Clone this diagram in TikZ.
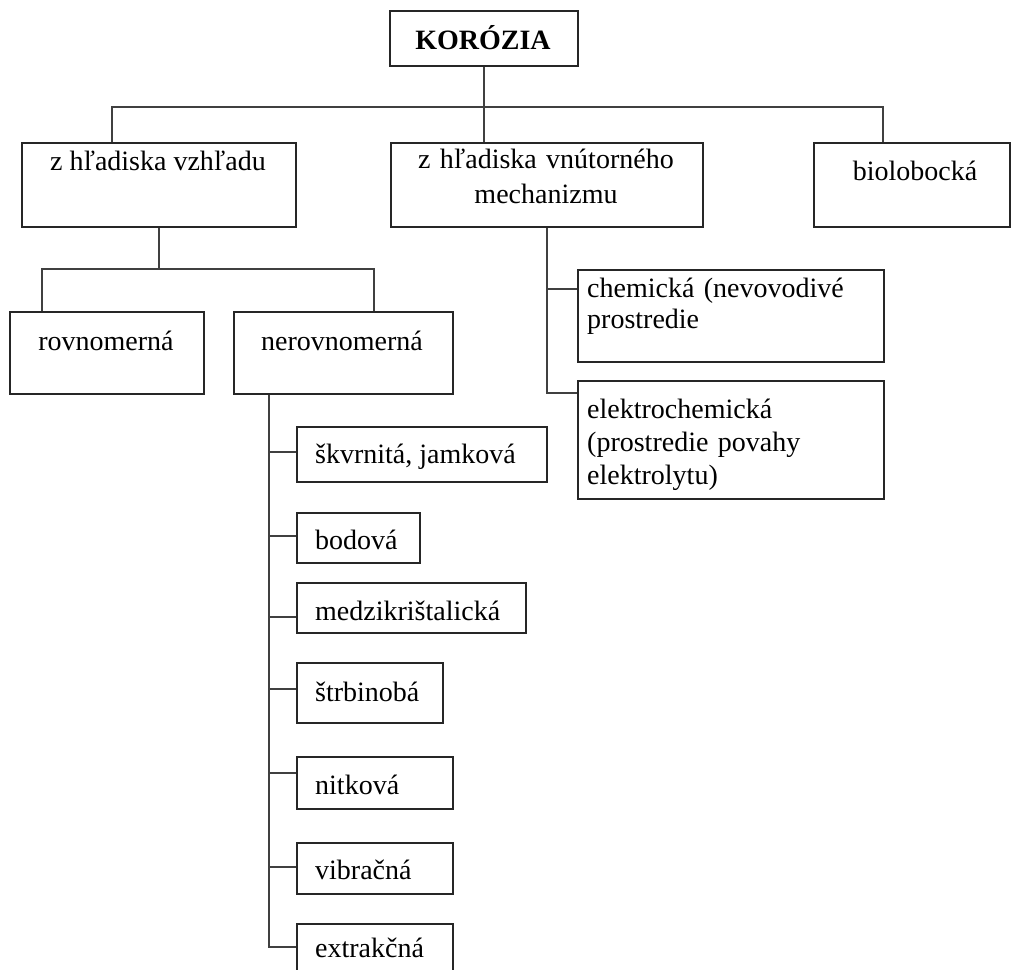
\documentclass[tikz,border=0pt]{standalone}
\usepackage{fontspec}
\setmainfont{Liberation Serif}
\begin{document}
\begin{tikzpicture}[x=1pt,y=-1pt,
  box/.style={draw=black!85, line width=1.6pt, inner sep=0pt, anchor=north west},
  txt/.style={inner sep=0pt, font=\fontsize{28}{33}\selectfont},
  wire/.style={draw=black!75, line width=1.4pt}]
\clip (0,0) rectangle (1011,969);
\fill[white] (0,0) rectangle (1011,969);

% boxes
\node[box, minimum width=188, minimum height=55] (kor) at (389,10) {};
\node[box, minimum width=274, minimum height=84] (vzh) at (21,142) {};
\node[box, minimum width=312, minimum height=84] (mech) at (390,142) {};
\node[box, minimum width=196, minimum height=84] (bio) at (813,142) {};
\node[box, minimum width=194, minimum height=82] (rov) at (9,311) {};
\node[box, minimum width=219, minimum height=82] (nerov) at (233,311) {};
\node[box, minimum width=306, minimum height=92] (chem) at (577,269) {};
\node[box, minimum width=306, minimum height=118] (elch) at (577,380) {};
\node[box, minimum width=250, minimum height=55] (s1) at (296,426) {};
\node[box, minimum width=123, minimum height=50] (s2) at (296,512) {};
\node[box, minimum width=229, minimum height=50] (s3) at (296,582) {};
\node[box, minimum width=146, minimum height=60] (s4) at (296,662) {};
\node[box, minimum width=156, minimum height=52] (s5) at (296,756) {};
\node[box, minimum width=156, minimum height=51] (s6) at (296,842) {};
\node[box, minimum width=156, minimum height=60] (s7) at (296,923) {};

% texts
\node[txt, anchor=base, font={\fontsize{28}{33}\selectfont\bfseries}] at (483,49) {KORÓZIA};
\node[txt, anchor=base] at (158,170) {z hľadiska vzhľadu};
\node[txt, anchor=base, text width=300, align=center] at (546,168) {z hľadiska vnútorného\\[2pt]mechanizmu};
\node[txt, anchor=base] at (915,180) {biolobocká};
\node[txt, anchor=base] at (106,350) {rovnomerná};
\node[txt, anchor=base] at (342,350) {nerovnomerná};
\node[txt, anchor=base west, text width=290, align=left] at (587,297) {chemická (nevovodivé\\[-2pt]prostredie};
\node[txt, anchor=base west, text width=290, align=left] at (587,418) {elektrochemická\\(prostredie povahy\\elektrolytu)};
\node[txt, anchor=base west] at (315,463) {škvrnitá, jamková};
\node[txt, anchor=base west] at (315,549) {bodová};
\node[txt, anchor=base west] at (315,620) {medzikrištalická};
\node[txt, anchor=base west] at (315,701) {štrbinobá};
\node[txt, anchor=base west] at (315,794) {nitková};
\node[txt, anchor=base west] at (315,879) {vibračná};
\node[txt, anchor=base west] at (315,957) {extrakčná};

% top level bus
\coordinate (bus) at (483,107);
\coordinate (v1) at ([xshift=91pt]vzh.north west);
\coordinate (m1) at ([xshift=94pt]mech.north west);
\coordinate (b1) at ([xshift=70pt]bio.north west);
\draw[wire] (kor.south) -- (kor.south |- bus);
\draw[wire] (v1) -- (v1 |- bus) -- (b1 |- bus) -- (b1);
\draw[wire] (m1) -- (m1 |- bus);

% appearance branch
\coordinate (bus2) at (158,269);
\coordinate (r1) at ([xshift=33pt]rov.north west);
\coordinate (n1) at ([xshift=141pt]nerov.north west);
\draw[wire] (vzh.south) -- (vzh.south |- bus2);
\draw[wire] (r1) -- (r1 |- bus2) -- (n1 |- bus2) -- (n1);

% mechanism branch
\coordinate (k1) at ([yshift=-20pt]chem.north west);
\coordinate (k2) at ([yshift=-13pt]elch.north west);
\draw[wire] (mech.south) -- (mech.south |- k2) -- (k2);
\draw[wire] (mech.south |- k1) -- (k1);

% non-uniform corrosion list
\coordinate (nt) at ([xshift=36pt]nerov.south west);
\coordinate (j1) at ([yshift=-26pt]s1.north west);
\coordinate (j2) at ([yshift=-24pt]s2.north west);
\coordinate (j3) at ([yshift=-35pt]s3.north west);
\coordinate (j4) at ([yshift=-27pt]s4.north west);
\coordinate (j5) at ([yshift=-17pt]s5.north west);
\coordinate (j6) at ([yshift=-25pt]s6.north west);
\coordinate (j7) at ([yshift=-24pt]s7.north west);
\draw[wire] (nt) -- (nt |- j7) -- (j7);
\foreach \j in {j1,j2,j3,j4,j5,j6}
  \draw[wire] (nt |- \j) -- (\j);
\end{tikzpicture}
\end{document}
